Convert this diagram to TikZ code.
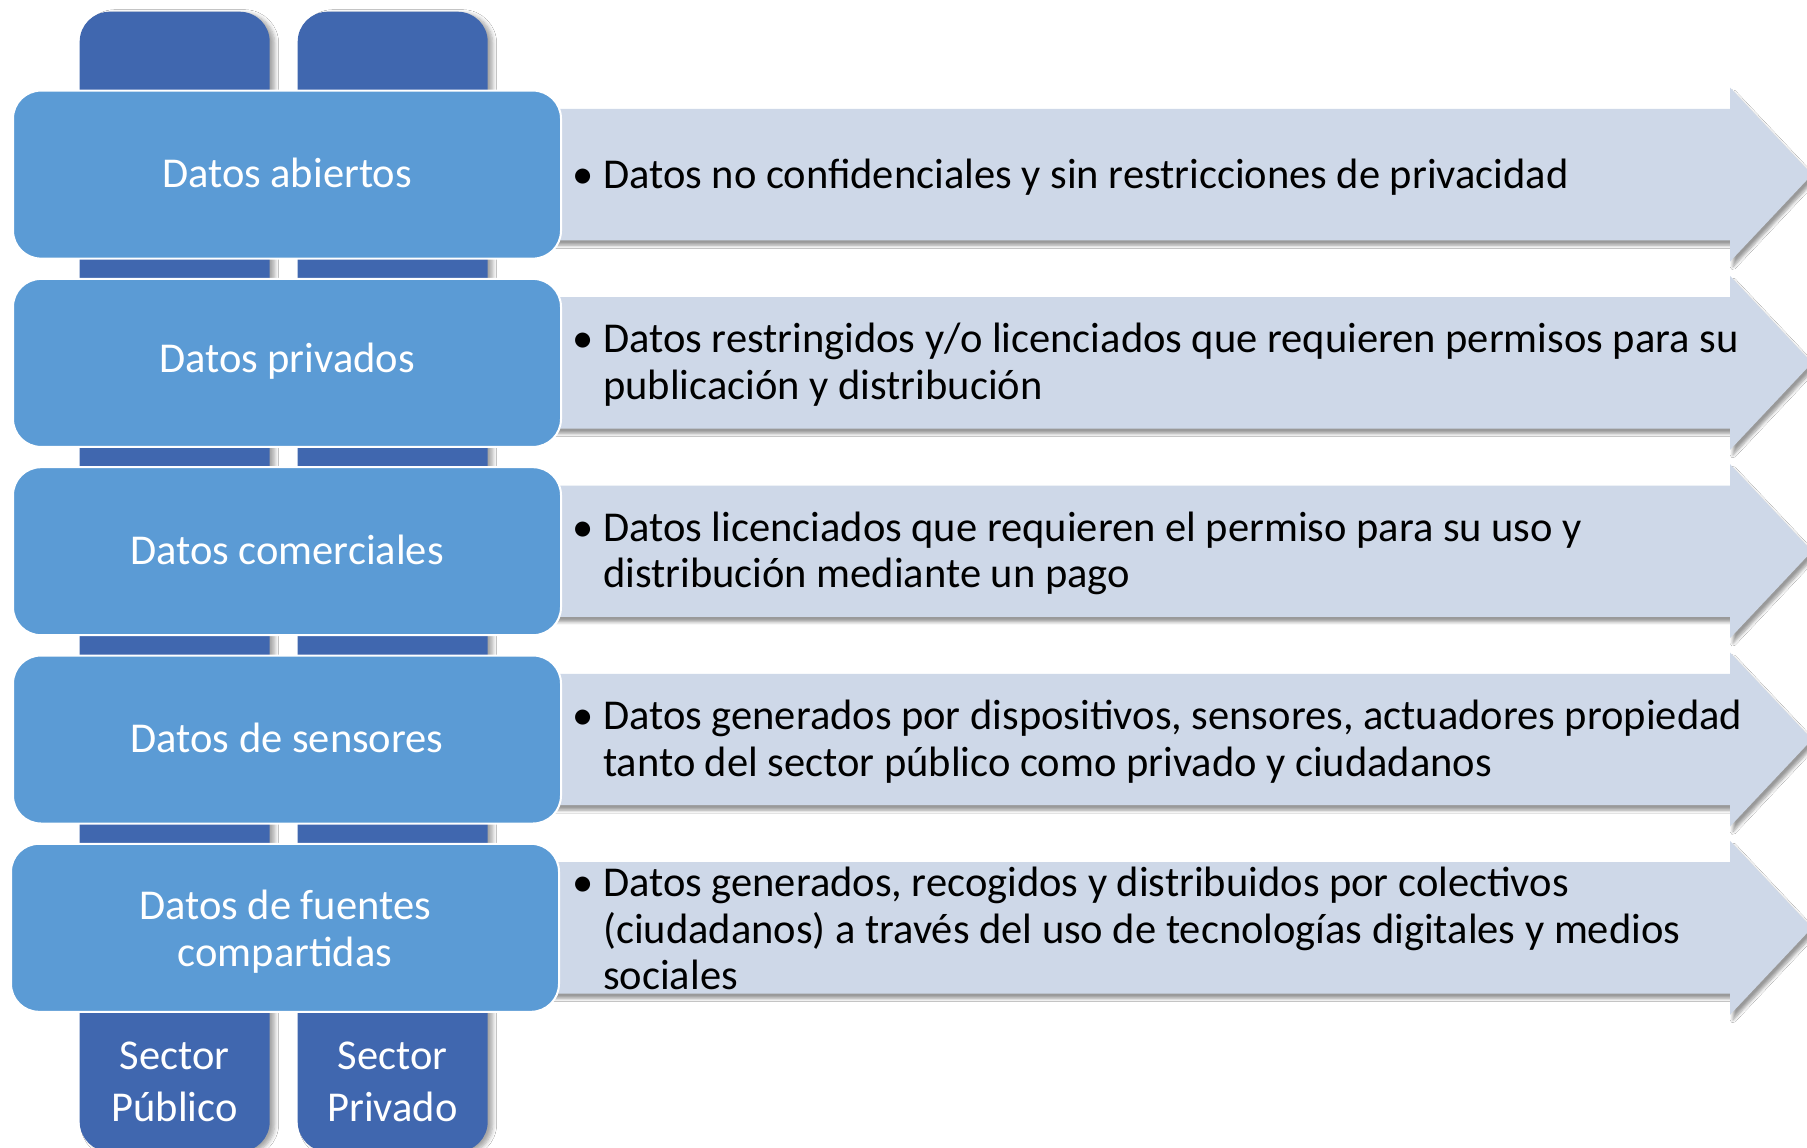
\documentclass[tikz,border=0pt]{standalone}
\usepackage{fontspec}
\setmainfont{Carlito}
\usetikzlibrary{shadows,shadows.blur}
\definecolor{coldark}{RGB}{64,103,175}
\definecolor{boxblue}{RGB}{91,155,213}
\definecolor{arrowfill}{RGB}{206,216,232}
\newcommand{\bul}{\makebox[30pt][l]{\hspace*{-1pt}•}}
\newcommand{\ind}{\hspace*{30pt}}
\begin{document}
\begin{tikzpicture}[x=1pt,y=-1pt,
  colbox/.style={fill=coldark, rounded corners=30pt, inner sep=0pt,
    blur shadow={shadow xshift=5pt, shadow yshift=-2pt, shadow opacity=35, shadow blur steps=6, shadow blur radius=4pt}},
  arrowshape/.style={fill=arrowfill,
    blur shadow={shadow xshift=3pt, shadow yshift=-5pt, shadow opacity=40, shadow blur steps=6, shadow blur radius=3pt}},
  catbox/.style={fill=boxblue, draw=white, line width=2pt, rounded corners=28pt,
    minimum width=548pt, minimum height=168pt, inner sep=0pt},
  cattext/.style={text=white, align=center, inner sep=0pt,
    font=\fontsize{42.5}{46.5}\selectfont},
  desctext/.style={anchor=west, inner sep=0pt, align=left, text=black,
    font=\fontsize{42.5}{46.5}\selectfont},
  sectortext/.style={text=white, align=center, inner sep=0pt,
    font=\fontsize{42.5}{52}\selectfont}]
\useasboundingbox (0,0) rectangle (1807,1148);
\fill[white] (0,0) rectangle (1807,1148);

% columns
\node[colbox, minimum width=190pt, minimum height=1140pt, anchor=north west] (colA) at (79.5,11.5) {};
\node[colbox, minimum width=190pt, minimum height=1140pt, anchor=north west] (colB) at (297.5,11.5) {};

% arrows
\foreach \i in {0,...,4} {
  \pgfmathsetmacro{\c}{174.6+188.3*\i}
  \path[arrowshape] (540,\c-65.7) -- (1730,\c-65.7) -- (1730,\c-87) -- (1812,\c)
     -- (1730,\c+87) -- (1730,\c+65.7) -- (540,\c+65.7) -- cycle;
}

% category boxes
\node[catbox] (b1) at (287,174.6) {};
\node[catbox] (b2) at (287,362.9) {};
\node[catbox] (b3) at (287,551.2) {};
\node[catbox] (b4) at (287,739.5) {};
\node[catbox] (b5) at (285,927.8) {};
\node[cattext] (t1) at ([yshift=1.5pt]b1.center) {Datos abiertos};
\node[cattext] (t2) at ([yshift=1.5pt]b2.center) {Datos privados};
\node[cattext] (t3) at ([yshift=1.5pt]b3.center) {Datos comerciales};
\node[cattext] (t4) at ([yshift=1.5pt]b4.center) {Datos de sensores};
\node[cattext] (t5) at ([yshift=-4pt]b5.center) {Datos de fuentes\\compartidas};

% descriptions
\node[desctext] (d1) at (573,176.8) {\bul Datos no confidenciales y sin restricciones de privacidad};
\node[desctext] (d2) at (573,364.9) {\bul Datos restringidos y/o licenciados que requieren permisos para su\\\ind publicación y distribución};
\node[desctext] (d3) at (573,553.2) {\bul Datos licenciados que requieren el permiso para su uso y\\\ind distribución mediante un pago};
\node[desctext] (d4) at (573,741.5) {\bul Datos generados por dispositivos, sensores, actuadores propiedad\\\ind tanto del sector público como privado y ciudadanos};
\node[desctext] (d5) at (573,928.8) {\bul Datos generados, recogidos y distribuidos por colectivos\\\ind (ciudadanos) a través del uso de tecnologías digitales y medios\\\ind sociales};

% sector labels
\node[sectortext] (s1) at (174.6,1082) {Sector\\Público};
\node[sectortext] (s2) at (392.5,1082) {Sector\\Privado};
\end{tikzpicture}
\end{document}
